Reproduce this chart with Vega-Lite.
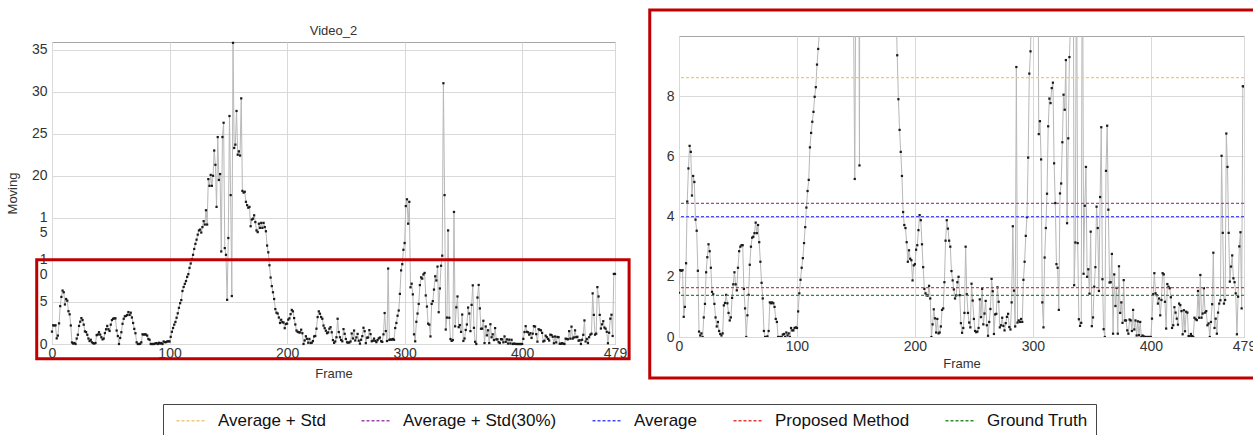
{
  "$schema": "https://vega.github.io/schema/vega-lite/v6.json",
  "background": "white",
  "padding": {"left": 5, "top": 8, "right": 0, "bottom": 0},
  "spacing": 15,
  "config": {
    "font": "Liberation Sans Narrow, Liberation Sans, Arial, sans-serif",
    "view": {"stroke": "#a6a6a6", "strokeWidth": 1},
    "axis": {"grid": true, "gridColor": "#d9d9d9", "gridWidth": 1, "domain": false, "ticks": false, "labelColor": "#333333", "labelFontSize": 14, "labelFlush": false, "titleFontWeight": "normal", "titleColor": "#333333", "titleFontSize": 13, "labelPadding": 2},
    "title": {"fontWeight": "normal", "fontSize": 13, "color": "#333333"}
  },
  "datasets": {
    "series": [
      {"frame":0,"moving":1.47},{"frame":1,"moving":2.22},{"frame":2,"moving":2.2},{"frame":3,"moving":2.22},{"frame":4,"moving":0.67},{"frame":5,"moving":1.0},{"frame":6,"moving":2.45},{"frame":7,"moving":4.5},{"frame":8,"moving":5.6},{"frame":9,"moving":6.35},
      {"frame":10,"moving":6.15},{"frame":11,"moving":4.7},{"frame":12,"moving":5.35},{"frame":13,"moving":5.15},{"frame":14,"moving":3.9},{"frame":15,"moving":3.53},{"frame":16,"moving":2.2},{"frame":17,"moving":0.18},{"frame":18,"moving":0.05},{"frame":19,"moving":0.12},
      {"frame":20,"moving":0},{"frame":21,"moving":0.65},{"frame":22,"moving":1.1},{"frame":23,"moving":2.15},{"frame":24,"moving":2.65},{"frame":25,"moving":3.08},{"frame":26,"moving":2.85},{"frame":27,"moving":2.3},{"frame":28,"moving":1.5},{"frame":29,"moving":1.42},
      {"frame":30,"moving":1.1},{"frame":31,"moving":0.65},{"frame":32,"moving":0.35},{"frame":33,"moving":0.5},{"frame":34,"moving":0.2},{"frame":35,"moving":0.1},{"frame":36,"moving":0.05},{"frame":37,"moving":0.12},{"frame":38,"moving":1.05},{"frame":39,"moving":1.13},
      {"frame":40,"moving":1.4},{"frame":41,"moving":1.12},{"frame":42,"moving":0.8},{"frame":43,"moving":0.55},{"frame":44,"moving":0.65},{"frame":45,"moving":1.3},{"frame":46,"moving":1.75},{"frame":47,"moving":2.15},{"frame":48,"moving":1.75},{"frame":49,"moving":1.55},
      {"frame":50,"moving":2.3},{"frame":51,"moving":2.85},{"frame":52,"moving":3.0},{"frame":53,"moving":3.05},{"frame":54,"moving":3.05},{"frame":55,"moving":1.6},{"frame":56,"moving":0.95},{"frame":57,"moving":0},{"frame":58,"moving":0.72},{"frame":59,"moving":1.4},
      {"frame":60,"moving":2.4},{"frame":61,"moving":3.0},{"frame":62,"moving":3.3},{"frame":63,"moving":3.33},{"frame":64,"moving":3.45},{"frame":65,"moving":3.8},{"frame":66,"moving":3.45},{"frame":67,"moving":3.72},{"frame":68,"moving":3.15},{"frame":69,"moving":2.5},
      {"frame":70,"moving":1.8},{"frame":71,"moving":1.28},{"frame":72,"moving":0.2},{"frame":73,"moving":0},{"frame":74,"moving":0},{"frame":75,"moving":0.02},{"frame":76,"moving":0.2},{"frame":77,"moving":1.15},{"frame":78,"moving":1.12},{"frame":79,"moving":1.15},
      {"frame":80,"moving":1.12},{"frame":81,"moving":1.0},{"frame":82,"moving":0.6},{"frame":83,"moving":0.5},{"frame":84,"moving":0},{"frame":85,"moving":0},{"frame":86,"moving":0},{"frame":87,"moving":0},{"frame":88,"moving":0.08},{"frame":89,"moving":0.1},
      {"frame":90,"moving":0},{"frame":91,"moving":0.15},{"frame":92,"moving":0.05},{"frame":93,"moving":0.12},{"frame":94,"moving":0},{"frame":95,"moving":0.3},{"frame":96,"moving":0.22},{"frame":97,"moving":0.22},{"frame":98,"moving":0.3},{"frame":99,"moving":0.32},
      {"frame":100,"moving":0.3},{"frame":101,"moving":0.85},{"frame":102,"moving":1.45},{"frame":103,"moving":1.9},{"frame":104,"moving":2.3},{"frame":105,"moving":2.62},{"frame":106,"moving":3.12},{"frame":107,"moving":3.65},{"frame":108,"moving":4.3},{"frame":109,"moving":4.85},
      {"frame":110,"moving":5.22},{"frame":111,"moving":6.3},{"frame":112,"moving":6.78},{"frame":113,"moving":7.15},{"frame":114,"moving":7.48},{"frame":115,"moving":7.98},{"frame":116,"moving":8.3},{"frame":117,"moving":9.05},{"frame":118,"moving":9.57},{"frame":119,"moving":10.1},
      {"frame":120,"moving":10.6},{"frame":121,"moving":11.3},{"frame":122,"moving":11.9},{"frame":123,"moving":12.4},{"frame":124,"moving":13.0},{"frame":125,"moving":13.5},{"frame":126,"moving":13.6},{"frame":127,"moving":13.25},{"frame":128,"moving":13.9},{"frame":129,"moving":14.6},
      {"frame":130,"moving":14.2},{"frame":131,"moving":15.9},{"frame":132,"moving":14.2},{"frame":133,"moving":19.6},{"frame":134,"moving":18.8},{"frame":135,"moving":20.1},{"frame":136,"moving":18.8},{"frame":137,"moving":20.0},{"frame":138,"moving":23.0},{"frame":139,"moving":21.3},
      {"frame":140,"moving":16.3},{"frame":141,"moving":24.6},{"frame":142,"moving":19.5},{"frame":143,"moving":20.2},{"frame":144,"moving":11.0},{"frame":145,"moving":24.6},{"frame":146,"moving":26.3},{"frame":147,"moving":11.4},{"frame":148,"moving":10.6},{"frame":149,"moving":5.25},
      {"frame":150,"moving":12.6},{"frame":151,"moving":27.1},{"frame":152,"moving":17.7},{"frame":153,"moving":5.7},{"frame":154,"moving":35.8},{"frame":155,"moving":23.3},{"frame":156,"moving":23.7},{"frame":157,"moving":27.7},{"frame":158,"moving":22.5},{"frame":159,"moving":22.9},
      {"frame":160,"moving":22.4},{"frame":161,"moving":29.2},{"frame":162,"moving":18.2},{"frame":163,"moving":18.0},{"frame":164,"moving":18.1},{"frame":165,"moving":16.9},{"frame":166,"moving":16.5},{"frame":167,"moving":16.2},{"frame":168,"moving":16.3},{"frame":169,"moving":14.0},
      {"frame":170,"moving":14.8},{"frame":171,"moving":14.9},{"frame":172,"moving":15.3},{"frame":173,"moving":14.5},{"frame":174,"moving":13.5},{"frame":175,"moving":13.3},{"frame":176,"moving":14.3},{"frame":177,"moving":13.8},{"frame":178,"moving":14.4},{"frame":179,"moving":13.8},
      {"frame":180,"moving":14.4},{"frame":181,"moving":13.9},{"frame":182,"moving":13.4},{"frame":183,"moving":11.7},{"frame":184,"moving":10.9},{"frame":185,"moving":9.36},{"frame":186,"moving":7.9},{"frame":187,"moving":6.88},{"frame":188,"moving":6.15},{"frame":189,"moving":5.35},
      {"frame":190,"moving":4.15},{"frame":191,"moving":3.72},{"frame":192,"moving":3.62},{"frame":193,"moving":3.15},{"frame":194,"moving":2.5},{"frame":195,"moving":2.88},{"frame":196,"moving":2.6},{"frame":197,"moving":2.55},{"frame":198,"moving":1.88},{"frame":199,"moving":2.38},
      {"frame":200,"moving":2.42},{"frame":201,"moving":2.9},{"frame":202,"moving":3.05},{"frame":203,"moving":3.55},{"frame":204,"moving":4.05},{"frame":205,"moving":3.88},{"frame":206,"moving":3.08},{"frame":207,"moving":2.32},{"frame":208,"moving":1.6},{"frame":209,"moving":1.45},
      {"frame":210,"moving":1.38},{"frame":211,"moving":1.38},{"frame":212,"moving":1.7},{"frame":213,"moving":1.28},{"frame":214,"moving":0},{"frame":215,"moving":0.42},{"frame":216,"moving":0.92},{"frame":217,"moving":0.62},{"frame":218,"moving":0.15},{"frame":219,"moving":0.6},
      {"frame":220,"moving":0.12},{"frame":221,"moving":0.15},{"frame":222,"moving":0.35},{"frame":223,"moving":0.9},{"frame":224,"moving":0.95},{"frame":225,"moving":1.82},{"frame":226,"moving":3.2},{"frame":227,"moving":3.88},{"frame":228,"moving":3.6},{"frame":229,"moving":3.2},
      {"frame":230,"moving":3.0},{"frame":231,"moving":2.19},{"frame":232,"moving":1.88},{"frame":233,"moving":1.58},{"frame":234,"moving":1.28},{"frame":235,"moving":1.38},{"frame":236,"moving":1.82},{"frame":237,"moving":2.0},{"frame":238,"moving":1.39},{"frame":239,"moving":0.46},
      {"frame":240,"moving":0.14},{"frame":241,"moving":0.3},{"frame":242,"moving":0.8},{"frame":243,"moving":3.0},{"frame":244,"moving":1.42},{"frame":245,"moving":0.8},{"frame":246,"moving":0.48},{"frame":247,"moving":0.32},{"frame":248,"moving":1.77},{"frame":249,"moving":1.21},
      {"frame":250,"moving":0.6},{"frame":251,"moving":0.2},{"frame":252,"moving":0.16},{"frame":253,"moving":0.18},{"frame":254,"moving":0.3},{"frame":255,"moving":1.25},{"frame":256,"moving":0.66},{"frame":257,"moving":1.6},{"frame":258,"moving":0.42},{"frame":259,"moving":0.78},
      {"frame":260,"moving":1.2},{"frame":261,"moving":0.39},{"frame":262,"moving":0.04},{"frame":263,"moving":0.5},{"frame":264,"moving":0.93},{"frame":265,"moving":1.93},{"frame":266,"moving":1.52},{"frame":267,"moving":0.1},{"frame":268,"moving":0.75},{"frame":269,"moving":0.77},
      {"frame":270,"moving":1.65},{"frame":271,"moving":1.17},{"frame":272,"moving":0.32},{"frame":273,"moving":0.39},{"frame":274,"moving":0.64},{"frame":275,"moving":0.37},{"frame":276,"moving":0.22},{"frame":277,"moving":0.46},{"frame":278,"moving":0.67},{"frame":279,"moving":0.77},
      {"frame":280,"moving":0.33},{"frame":281,"moving":0.25},{"frame":282,"moving":1.15},{"frame":283,"moving":3.68},{"frame":284,"moving":1.54},{"frame":285,"moving":0.35},{"frame":286,"moving":8.97},{"frame":287,"moving":0.48},{"frame":288,"moving":0.55},{"frame":289,"moving":0.5},
      {"frame":290,"moving":0.6},{"frame":291,"moving":0.5},{"frame":292,"moving":1.9},{"frame":293,"moving":2.5},{"frame":294,"moving":3.36},{"frame":295,"moving":3.98},{"frame":296,"moving":5.96},{"frame":297,"moving":8.75},{"frame":298,"moving":9.49},{"frame":299,"moving":11.2},
      {"frame":300,"moving":12.0},{"frame":301,"moving":16.4},{"frame":302,"moving":17.2},{"frame":303,"moving":14.3},{"frame":304,"moving":16.9},{"frame":305,"moving":6.74},{"frame":306,"moving":7.17},{"frame":307,"moving":5.9},{"frame":308,"moving":1.15},{"frame":309,"moving":0.32},
      {"frame":310,"moving":2.64},{"frame":311,"moving":3.62},{"frame":312,"moving":4.76},{"frame":313,"moving":7.0},{"frame":314,"moving":7.92},{"frame":315,"moving":7.77},{"frame":316,"moving":8.27},{"frame":317,"moving":8.45},{"frame":318,"moving":5.77},{"frame":319,"moving":4.45},
      {"frame":320,"moving":2.42},{"frame":321,"moving":2.3},{"frame":322,"moving":0.9},{"frame":323,"moving":4.77},{"frame":324,"moving":5.1},{"frame":325,"moving":6.47},{"frame":326,"moving":8.05},{"frame":327,"moving":7.55},{"frame":328,"moving":9.2},{"frame":329,"moving":3.78},
      {"frame":330,"moving":6.6},{"frame":331,"moving":9.3},{"frame":332,"moving":10.5},{"frame":333,"moving":31.0},{"frame":334,"moving":17.7},{"frame":335,"moving":1.72},{"frame":336,"moving":3.14},{"frame":337,"moving":13.5},{"frame":338,"moving":3.12},{"frame":339,"moving":0.59},
      {"frame":340,"moving":0.37},{"frame":341,"moving":0.47},{"frame":342,"moving":15.7},{"frame":343,"moving":2.1},{"frame":344,"moving":4.36},{"frame":345,"moving":5.65},{"frame":346,"moving":2.0},{"frame":347,"moving":2.25},{"frame":348,"moving":1.44},{"frame":349,"moving":3.5},
      {"frame":350,"moving":0.36},{"frame":351,"moving":0.65},{"frame":352,"moving":1.67},{"frame":353,"moving":2.32},{"frame":354,"moving":4.33},{"frame":355,"moving":3.62},{"frame":356,"moving":1.53},{"frame":357,"moving":4.65},{"frame":358,"moving":6.97},{"frame":359,"moving":1.92},
      {"frame":360,"moving":0.26},{"frame":361,"moving":0},{"frame":362,"moving":5.52},{"frame":363,"moving":7.02},{"frame":364,"moving":4.23},{"frame":365,"moving":1.81},{"frame":366,"moving":1.82},{"frame":367,"moving":2.76},{"frame":368,"moving":0.11},{"frame":369,"moving":2.08},
      {"frame":370,"moving":1.03},{"frame":371,"moving":1.63},{"frame":372,"moving":0.11},{"frame":373,"moving":2.35},{"frame":374,"moving":0.8},{"frame":375,"moving":1.15},{"frame":376,"moving":0.47},{"frame":377,"moving":1.89},{"frame":378,"moving":0.55},{"frame":379,"moving":0.55},
      {"frame":380,"moving":0.22},{"frame":381,"moving":0.11},{"frame":382,"moving":0.58},{"frame":383,"moving":0.55},{"frame":384,"moving":0.2},{"frame":385,"moving":0.9},{"frame":386,"moving":0.25},{"frame":387,"moving":0.55},{"frame":388,"moving":0.05},{"frame":389,"moving":0.52},
      {"frame":390,"moving":0.06},{"frame":391,"moving":0.5},{"frame":392,"moving":0},{"frame":393,"moving":0.05},{"frame":394,"moving":0.02},{"frame":395,"moving":0},{"frame":396,"moving":0},{"frame":397,"moving":0},{"frame":398,"moving":0},{"frame":399,"moving":0},
      {"frame":400,"moving":0},{"frame":401,"moving":0.61},{"frame":402,"moving":1.42},{"frame":403,"moving":2.12},{"frame":404,"moving":1.45},{"frame":405,"moving":1.39},{"frame":406,"moving":1.11},{"frame":407,"moving":1.28},{"frame":408,"moving":0.72},{"frame":409,"moving":1.23},
      {"frame":410,"moving":2.12},{"frame":411,"moving":2.08},{"frame":412,"moving":1.17},{"frame":413,"moving":0.28},{"frame":414,"moving":1.76},{"frame":415,"moving":1.67},{"frame":416,"moving":1.62},{"frame":417,"moving":1.32},{"frame":418,"moving":0.3},{"frame":419,"moving":0.39},
      {"frame":420,"moving":0.99},{"frame":421,"moving":0.81},{"frame":422,"moving":0.61},{"frame":423,"moving":0.41},{"frame":424,"moving":1.11},{"frame":425,"moving":1.06},{"frame":426,"moving":0.86},{"frame":427,"moving":0.09},{"frame":428,"moving":0.89},{"frame":429,"moving":0.19},
      {"frame":430,"moving":0.84},{"frame":431,"moving":0.81},{"frame":432,"moving":0.03},{"frame":433,"moving":0.03},{"frame":434,"moving":0.1},{"frame":435,"moving":0.03},{"frame":436,"moving":0},{"frame":437,"moving":0.64},{"frame":438,"moving":0.59},{"frame":439,"moving":0.56},
      {"frame":440,"moving":1.53},{"frame":441,"moving":0.64},{"frame":442,"moving":2.06},{"frame":443,"moving":0.64},{"frame":444,"moving":0.78},{"frame":445,"moving":1.62},{"frame":446,"moving":0.81},{"frame":447,"moving":0.86},{"frame":448,"moving":0.39},{"frame":449,"moving":0.45},
      {"frame":450,"moving":0},{"frame":451,"moving":0.5},{"frame":452,"moving":1.09},{"frame":453,"moving":2.8},{"frame":454,"moving":0.3},{"frame":455,"moving":0.61},{"frame":456,"moving":0.11},{"frame":457,"moving":0.81},{"frame":458,"moving":1.11},{"frame":459,"moving":1.22},
      {"frame":460,"moving":6.02},{"frame":461,"moving":3.46},{"frame":462,"moving":1.11},{"frame":463,"moving":1.23},{"frame":464,"moving":6.76},{"frame":465,"moving":5.65},{"frame":466,"moving":3.46},{"frame":467,"moving":1.84},{"frame":468,"moving":2.34},{"frame":469,"moving":2.71},
      {"frame":470,"moving":1.95},{"frame":471,"moving":1.82},{"frame":472,"moving":1.45},{"frame":473,"moving":0.09},{"frame":474,"moving":1.34},{"frame":475,"moving":3.01},{"frame":476,"moving":3.48},{"frame":477,"moving":0.95},{"frame":478,"moving":8.33},{"frame":479,"moving":8.33}
    ],
    "thresholds": [
      {"method": "Average + Std", "level": 8.62},
      {"method": "Average + Std(30%)", "level": 4.44},
      {"method": "Average", "level": 4.0},
      {"method": "Proposed Method", "level": 1.64},
      {"method": "Ground Truth", "level": 1.38}
    ]
  },
  "hconcat": [
    {
      "bounds": "flush",
      "spacing": 5,
      "vconcat": [
        {
          "width": 563,
          "height": 1,
          "view": {"stroke": null},
          "data": {"values": [{"blank": 1}]},
          "mark": {"type": "point", "opacity": 0},
          "encoding": {}
        },
        {
          "width": 563,
          "height": 302,
          "title": {"text": "Video_2", "fontSize": 13, "offset": 3},
          "layer": [
            {
              "data": {"name": "series"},
              "mark": {"type": "line", "color": "#b8b8b8", "strokeWidth": 1},
              "encoding": {
                "x": {"field": "frame", "type": "quantitative", "scale": {"domain": [0, 479], "nice": false, "zero": false},
                      "axis": {"title": "Frame", "values": [0, 100, 200, 300, 400, 479], "titlePadding": 7}},
                "y": {"field": "moving", "type": "quantitative", "scale": {"domain": [0, 35.9], "nice": false},
                      "axis": {"title": "Moving", "values": [0, 5, 10, 15, 20, 25, 30, 35], "titlePadding": 12, "labelPadding": 5,
                               "labelExpr": "datum.value == 15 ? ['1','5'] : datum.value == 10 ? ['1','0'] : datum.label",
                               "labelLineHeight": 15}}
              }
            },
            {
              "data": {"name": "series"},
              "mark": {"type": "point", "shape": "square", "filled": true, "size": 5, "color": "#1a1a1a", "opacity": 1},
              "encoding": {
                "x": {"field": "frame", "type": "quantitative"},
                "y": {"field": "moving", "type": "quantitative"}
              }
            },
            {
              "data": {"values": [{"f1": -13.0, "f2": 491.0, "v1": -1.75, "v2": 10.02}]},
              "mark": {"type": "rect", "fill": null, "stroke": "#c00000", "strokeWidth": 3, "clip": false},
              "encoding": {
                "x": {"field": "f1", "type": "quantitative"},
                "x2": {"field": "f2"},
                "y": {"field": "v1", "type": "quantitative"},
                "y2": {"field": "v2"}
              }
            }
          ]
        }
      ]
    },
    {
      "width": 565,
      "height": 301,
      "layer": [
        {
          "data": {"name": "series"},
          "mark": {"type": "line", "color": "#b8b8b8", "strokeWidth": 1, "clip": true},
          "encoding": {
            "x": {"field": "frame", "type": "quantitative", "scale": {"domain": [0, 479], "nice": false, "zero": false},
                  "axis": {"title": "Frame", "values": [0, 100, 200, 300, 400, 479], "titlePadding": 4}},
            "y": {"field": "moving", "type": "quantitative", "scale": {"domain": [0, 10], "nice": false},
                  "axis": {"title": null, "values": [0, 2, 4, 6, 8], "labelPadding": 5}}
          }
        },
        {
          "data": {"name": "series"},
          "mark": {"type": "point", "shape": "square", "filled": true, "size": 5, "color": "#1a1a1a", "opacity": 1, "clip": true},
          "encoding": {
            "x": {"field": "frame", "type": "quantitative"},
            "y": {"field": "moving", "type": "quantitative"}
          }
        },
        {
          "data": {"name": "thresholds"},
          "mark": {"type": "rule", "strokeWidth": 1.3, "strokeDash": [3, 2]},
          "encoding": {
            "y": {"field": "level", "type": "quantitative"},
            "color": {"field": "method", "type": "nominal",
                      "scale": {"domain": ["Average + Std", "Average + Std(30%)", "Average", "Proposed Method", "Ground Truth"],
                                "range": ["#f0c878", "#9a4aa6", "#4a4aff", "#e03c3c", "#2e8b2e"]},
                      "legend": {"orient": "none", "legendX": 111, "legendY": 368, "direction": "horizontal", "columns": 5,
                                 "title": null, "symbolType": "M-2.5,0H2.5", "symbolSize": 144, "symbolStrokeWidth": 1.5,
                                 "symbolDash": [3, 2], "symbolOffset": 12, "labelFontSize": 17, "labelColor": "#111111", "labelOffset": 18,
                                 "columnPadding": 30, "padding": 8, "strokeColor": "#444444", "labelLimit": 300}}
          }
        },
        {
          "data": {"values": [{"f1": -24.8, "f2": 490, "v1": -1.36, "v2": 10.86}]},
          "mark": {"type": "rect", "fill": null, "stroke": "#c00000", "strokeWidth": 3, "clip": false},
          "encoding": {
            "x": {"field": "f1", "type": "quantitative"},
            "x2": {"field": "f2"},
            "y": {"field": "v1", "type": "quantitative"},
            "y2": {"field": "v2"}
          }
        }
      ]
    }
  ]
}
